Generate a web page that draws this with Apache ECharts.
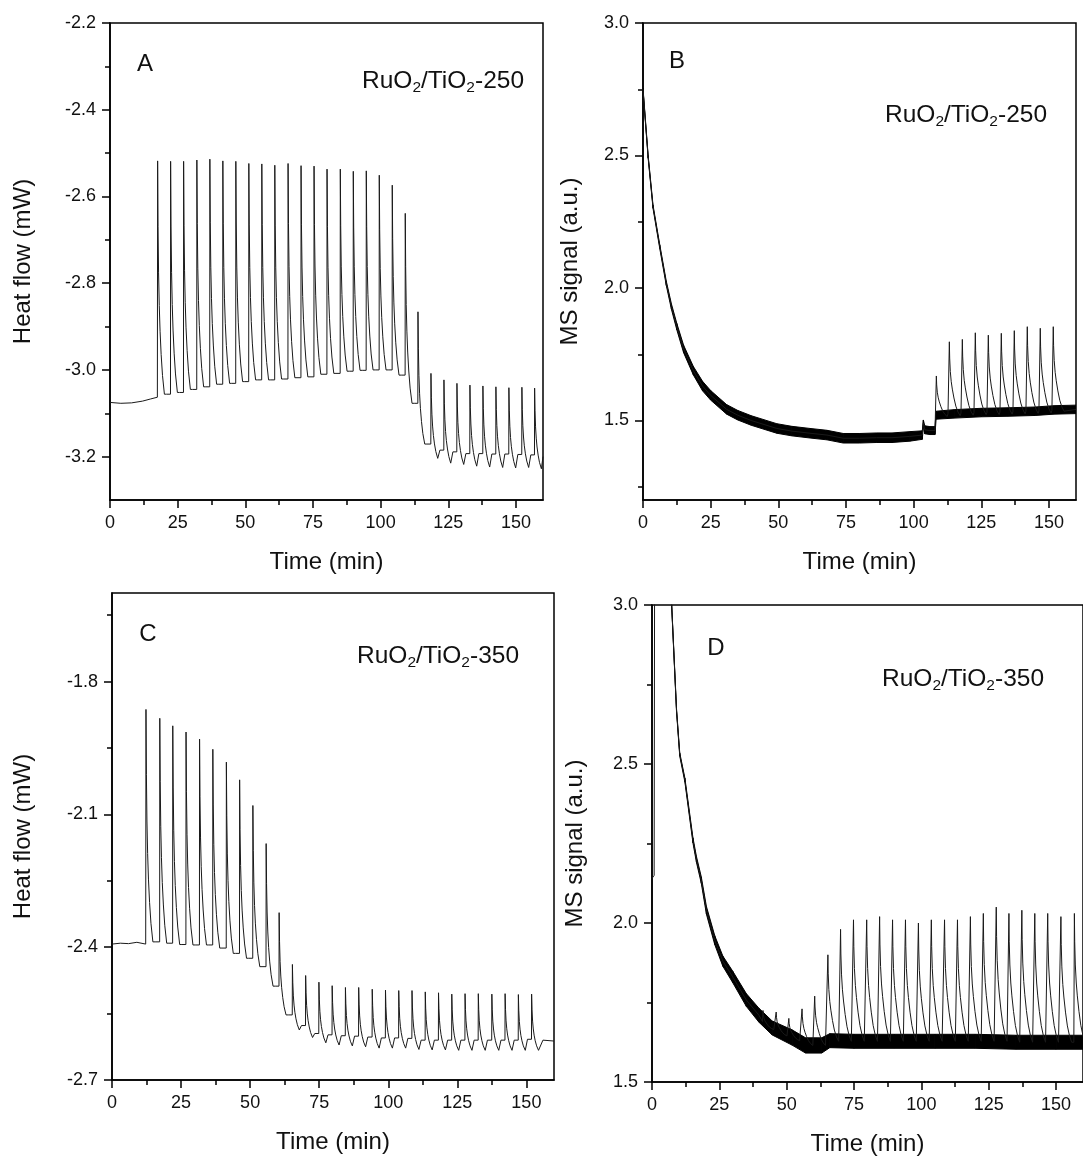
<!DOCTYPE html>
<html><head><meta charset="utf-8">
<script src="https://cdn.jsdelivr.net/npm/echarts@6/dist/echarts.min.js"></script>
<style>html,body{margin:0;padding:0;background:#fff}#c{width:1083px;height:1158px}</style>
</head><body><div id="c"></div>
<script>
// ---------- tick labels ----------
const xMajor = [0, 25, 50, 75, 100, 125, 150];
const xMinor = [12.5, 37.5, 62.5, 87.5, 112.5, 137.5];
const yMajorA = [-3.2, -3.0, -2.8, -2.6, -2.4, -2.2];
const yMinorA = [-3.1, -2.9, -2.7, -2.5, -2.3];
const yMajorB = [1.5, 2.0, 2.5, 3.0];
const yMinorB = [1.25, 1.75, 2.25, 2.75];
const yMajorC = [-2.7, -2.4, -2.1, -1.8];
const yMinorC = [-2.55, -2.25, -1.95, -1.65];
const yMajorD = [1.5, 2.0, 2.5, 3.0];
const yMinorD = [1.75, 2.25, 2.75];

// ---------- Panel A : heat flow, RuO2/TiO2-250 ----------
const leadA = [[0, -3.075], [4, -3.077], [8, -3.076], [12, -3.072], [15, -3.067], [17.5, -3.063]];
const peakTimeA = [17.6, 22.4, 27.2, 32.1, 36.9, 41.7, 46.5, 51.3, 56.1, 60.9, 65.8, 70.6, 75.4, 80.2, 85.1, 89.9, 94.7, 99.5, 104.3, 109.1, 113.8, 118.6, 123.4, 128.2, 133.0, 137.8, 142.6, 147.4, 152.2, 156.9];
const peakTopA = [-2.518, -2.519, -2.519, -2.516, -2.514, -2.518, -2.519, -2.524, -2.525, -2.528, -2.524, -2.529, -2.530, -2.537, -2.537, -2.542, -2.541, -2.551, -2.574, -2.639, -2.866, -3.008, -3.023, -3.031, -3.035, -3.037, -3.039, -3.041, -3.040, -3.042];
const preA = [-3.063, -3.056, -3.052, -3.045, -3.039, -3.033, -3.031, -3.027, -3.023, -3.023, -3.021, -3.018, -3.016, -3.010, -3.008, -3.003, -3.001, -3.000, -3.000, -3.012, -3.077, -3.171, -3.185, -3.189, -3.193, -3.193, -3.194, -3.194, -3.195, -3.196];
const dipA = [-3.056, -3.052, -3.045, -3.039, -3.033, -3.031, -3.027, -3.023, -3.023, -3.021, -3.018, -3.016, -3.010, -3.008, -3.003, -3.001, -3.000, -3.000, -3.012, -3.077, -3.171, -3.204, -3.215, -3.218, -3.222, -3.224, -3.225, -3.226, -3.225, -3.228];
const tailA = [[160, -3.200]];

// ---------- Panel C : heat flow, RuO2/TiO2-350 ----------
const leadC = [[0, -2.393], [3, -2.391], [6, -2.392], [9, -2.389], [12.2, -2.393]];
const peakTimeC = [12.3, 17.3, 22.0, 26.8, 31.7, 36.5, 41.4, 46.2, 51.0, 55.8, 60.5, 65.3, 70.1, 74.9, 79.7, 84.5, 89.3, 94.2, 99.0, 103.8, 108.6, 113.4, 118.2, 123.0, 127.8, 132.6, 137.5, 142.3, 147.1, 151.9];
const peakTopC = [-1.863, -1.883, -1.900, -1.914, -1.930, -1.953, -1.982, -2.022, -2.080, -2.166, -2.322, -2.439, -2.464, -2.479, -2.487, -2.491, -2.491, -2.495, -2.497, -2.498, -2.498, -2.501, -2.503, -2.506, -2.505, -2.505, -2.506, -2.505, -2.507, -2.506];
const preC = [-2.393, -2.388, -2.391, -2.394, -2.395, -2.395, -2.402, -2.414, -2.425, -2.444, -2.488, -2.553, -2.577, -2.595, -2.598, -2.600, -2.601, -2.603, -2.605, -2.605, -2.606, -2.610, -2.610, -2.610, -2.610, -2.610, -2.610, -2.610, -2.610, -2.608];
const dipC = [-2.388, -2.391, -2.394, -2.395, -2.395, -2.402, -2.414, -2.425, -2.444, -2.488, -2.553, -2.587, -2.604, -2.616, -2.621, -2.623, -2.625, -2.628, -2.628, -2.628, -2.631, -2.632, -2.632, -2.633, -2.633, -2.633, -2.633, -2.633, -2.633, -2.633];
const tailC = [[156, -2.610], [160, -2.612]];

// ---------- Panel B : MS signal, RuO2/TiO2-250 ----------
const bandTimeB = [0, 1.9, 3.7, 6.2, 8.6, 10.5, 12.5, 15, 18.6, 22, 25, 30.9, 35, 40, 49.4, 55, 61.7, 68, 74, 80, 86.3, 92, 98.6, 103.2, 103.6, 104.1, 106, 107.9, 108.3, 115, 125, 135, 145, 152, 160];
const bandMidB = [2.75, 2.495, 2.307, 2.156, 2.018, 1.93, 1.854, 1.77, 1.688, 1.63, 1.595, 1.542, 1.52, 1.50, 1.470, 1.46, 1.452, 1.445, 1.433, 1.433, 1.435, 1.435, 1.44, 1.445, 1.49, 1.465, 1.462, 1.462, 1.52, 1.525, 1.53, 1.532, 1.535, 1.54, 1.542];
const bandHalfB = [0.004, 0.005, 0.006, 0.007, 0.008, 0.01, 0.012, 0.014, 0.016, 0.018, 0.018, 0.018, 0.018, 0.018, 0.018, 0.018, 0.018, 0.018, 0.018, 0.018, 0.018, 0.018, 0.018, 0.016, 0.012, 0.015, 0.015, 0.015, 0.015, 0.016, 0.016, 0.016, 0.016, 0.016, 0.016];
const peakTimeB = [108.4, 113.2, 118.0, 122.8, 127.6, 132.4, 137.2, 142.0, 146.8, 151.6];
const peakTopB = [1.668, 1.797, 1.806, 1.831, 1.822, 1.829, 1.839, 1.854, 1.848, 1.854];
const preB = [1.462, 1.525, 1.528, 1.530, 1.530, 1.532, 1.533, 1.535, 1.536, 1.538];
const dipB = [1.515, 1.518, 1.520, 1.522, 1.522, 1.524, 1.525, 1.527, 1.528, 1.535];
const tailB = [[156, 1.540], [160, 1.542]];

// ---------- Panel D : MS signal, RuO2/TiO2-350 ----------
const bandTimeD = [7.3, 9.1, 10.3, 12.2, 15.2, 16.5, 18.3, 20.2, 23.3, 26.3, 30, 35, 39.7, 44.6, 52, 57, 63, 66, 75, 90, 105, 120, 135, 150, 160];
const bandMidD = [3.0, 2.67, 2.53, 2.45, 2.26, 2.20, 2.135, 2.04, 1.946, 1.88, 1.83, 1.758, 1.71, 1.67, 1.64, 1.615, 1.615, 1.63, 1.628, 1.628, 1.628, 1.628, 1.625, 1.625, 1.625];
const bandHalfD = [0.003, 0.004, 0.005, 0.006, 0.008, 0.009, 0.010, 0.012, 0.014, 0.016, 0.018, 0.020, 0.022, 0.022, 0.024, 0.024, 0.024, 0.022, 0.022, 0.022, 0.022, 0.022, 0.022, 0.022, 0.022];
const leadStartD = [[0, 2.14], [0.8, 2.15], [1.0, 3.3], [6.5, 3.15]];
const peakTimeD = [41.2, 46.1, 50.8, 55.7, 60.4, 65.3, 70.0, 74.8, 79.7, 84.5, 89.3, 94.1, 98.9, 103.7, 108.6, 113.4, 118.2, 123.0, 127.8, 132.5, 137.3, 142.1, 146.9, 151.8, 156.8];
const peakTopD = [1.725, 1.72, 1.70, 1.73, 1.77, 1.90, 1.98, 2.01, 2.01, 2.02, 2.01, 2.01, 2.00, 2.01, 2.01, 2.01, 2.02, 2.03, 2.05, 2.03, 2.04, 2.03, 2.03, 2.02, 2.03];
const preD = [1.69, 1.665, 1.645, 1.625, 1.615, 1.615, 1.628, 1.628, 1.628, 1.628, 1.628, 1.628, 1.628, 1.628, 1.628, 1.628, 1.628, 1.628, 1.628, 1.628, 1.625, 1.625, 1.625, 1.625, 1.625];
const dipD = [1.665, 1.645, 1.63, 1.615, 1.615, 1.628, 1.628, 1.628, 1.628, 1.628, 1.628, 1.628, 1.628, 1.628, 1.628, 1.628, 1.628, 1.628, 1.628, 1.625, 1.625, 1.625, 1.625, 1.625, 1.625];
const tailD = [[160, 1.628]];

// ---------- peak decay shapes (fraction of peak height left) ----------
const heatDecayOffset = [0, 0.15, 0.35, 0.6, 0.9, 1.3, 1.8, 2.5];
const heatDecayFrac   = [1, 0.72, 0.52, 0.38, 0.27, 0.17, 0.08, 0];
const msDecayOffset = [0, 0.12, 0.35, 0.7, 1.1, 1.7, 2.4, 3.2, 4.0];
const msDecayFrac   = [1, 0.78, 0.6, 0.46, 0.36, 0.24, 0.13, 0.05, 0];

function buildTrace(lead, T, top, pre, dip, tail, offs, fr, rise, recov) {
  const pts = lead.map(p => p.slice());
  for (let i = 0; i < T.length; i++) {
    pts.push([T[i] - rise, pre[i]]);
    pts.push([T[i], top[i]]);
    for (let k = 1; k < offs.length; k++) pts.push([T[i] + offs[k], dip[i] + (top[i] - dip[i]) * fr[k]]);
    if (i < T.length - 1) pts.push([T[i] + recov, pre[i + 1]]);
    else tail.forEach(p => pts.push(p.slice()));
  }
  return pts;
}
function leadFromBand(t, m, tEnd) { const o = []; t.forEach((v, i) => { if (v < tEnd) o.push([v, m[i]]); }); return o; }
// one quad per interval of the noise band: [t0, lo0, hi0, t1, lo1, hi1]
function bandQuads(t, m, h) {
  const q = [];
  for (let i = 0; i < t.length - 1; i++) q.push([t[i], m[i] - h[i], m[i] + h[i], t[i + 1], m[i + 1] - h[i + 1], m[i + 1] + h[i + 1]]);
  return q;
}

const traceA = buildTrace(leadA, peakTimeA, peakTopA, preA, dipA, tailA, heatDecayOffset, heatDecayFrac, 0.05, 3.3);
const traceC = buildTrace(leadC, peakTimeC, peakTopC, preC, dipC, tailC, heatDecayOffset, heatDecayFrac, 0.05, 3.3);
const traceB = buildTrace(leadFromBand(bandTimeB, bandMidB, peakTimeB[0] - 0.2), peakTimeB, peakTopB, preB, dipB, tailB, msDecayOffset, msDecayFrac, 0.2, 4.3);
const traceD = buildTrace(leadStartD.concat(leadFromBand(bandTimeD, bandMidD, peakTimeD[0] - 0.2)), peakTimeD, peakTopD, preD, dipD, tailD, msDecayOffset, msDecayFrac, 0.2, 4.3);

// ---------- layout ----------
const FONT = 'Liberation Sans, Arial, sans-serif';
const panels = [
  { grid: { left: 110, top: 23, width: 433, height: 477 }, ymin: -3.3, ymax: -2.2, yMaj: yMajorA, yMin: yMinorA, yName: 'Heat flow (mW)', yGap: 75 },
  { grid: { left: 643, top: 23, width: 433, height: 477 }, ymin: 1.2, ymax: 3.0, yMaj: yMajorB, yMin: yMinorB, yName: 'MS signal (a.u.)', yGap: 61 },
  { grid: { left: 112, top: 593, width: 442, height: 487 }, ymin: -2.7, ymax: -1.6, yMaj: yMajorC, yMin: yMinorC, yName: 'Heat flow (mW)', yGap: 77 },
  { grid: { left: 652, top: 605, width: 434, height: 477 }, ymin: 1.5, ymax: 3.0, yMaj: yMajorD, yMin: yMinorD, yName: 'MS signal (a.u.)', yGap: 65 }
];
const grids = [], xAxes = [], yAxes = [];
panels.forEach((p, i) => {
  grids.push(Object.assign({ show: true, borderColor: '#000', borderWidth: 1.5, backgroundColor: 'transparent' }, p.grid));
  xAxes.push({
    type: 'value', gridIndex: i, position: 'bottom', min: 0, max: 160, name: 'Time (min)', nameLocation: 'middle', nameGap: 50,
    nameTextStyle: { fontFamily: FONT, fontSize: 24, color: '#111' },
    axisLine: { show: true, onZero: false, lineStyle: { color: '#000', width: 1.6 } },
    axisTick: { show: true, length: 8, customValues: xMajor, lineStyle: { color: '#000', width: 1.5 } },
    axisLabel: { show: true, customValues: xMajor, margin: 14, fontFamily: FONT, fontSize: 18, color: '#111' },
    splitLine: { show: false }
  });
  xAxes.push({
    type: 'value', gridIndex: i, position: 'bottom', min: 0, max: 160,
    axisLine: { show: false, onZero: false },
    axisTick: { show: true, length: 5, customValues: xMinor, lineStyle: { color: '#000', width: 1.5 } },
    axisLabel: { show: false, customValues: xMinor }, splitLine: { show: false }
  });
  yAxes.push({
    type: 'value', gridIndex: i, position: 'left', min: p.ymin, max: p.ymax, name: p.yName, nameLocation: 'middle', nameGap: p.yGap,
    nameTextStyle: { fontFamily: FONT, fontSize: 24, color: '#111' },
    axisLine: { show: true, onZero: false, lineStyle: { color: '#000', width: 1.6 } },
    axisTick: { show: true, length: 8, customValues: p.yMaj, lineStyle: { color: '#000', width: 1.5 } },
    axisLabel: { show: true, customValues: p.yMaj, margin: 14, fontFamily: FONT, fontSize: 18, color: '#111', formatter: v => Number(v).toFixed(1) },
    splitLine: { show: false }
  });
  yAxes.push({
    type: 'value', gridIndex: i, position: 'left', min: p.ymin, max: p.ymax,
    axisLine: { show: false, onZero: false },
    axisTick: { show: true, length: 5, customValues: p.yMin, lineStyle: { color: '#000', width: 1.5 } },
    axisLabel: { show: false, customValues: p.yMin }, splitLine: { show: false }
  });
});

function lineSeries(idx, data) {
  return { type: 'line', xAxisIndex: idx * 2, yAxisIndex: idx * 2, data: data, showSymbol: false, symbol: 'none',
    lineStyle: { color: '#1a1a1a', width: 1 }, animation: false, silent: true, clip: true, z: 3 };
}
function bandSeries(idx, t, m, h) {
  return {
    type: 'custom', xAxisIndex: idx * 2, yAxisIndex: idx * 2, data: bandQuads(t, m, h), clip: true, silent: true, z: 2,
    encode: { x: [0, 3], y: [1, 2, 4, 5] },
    renderItem: function (params, api) {
      const p0 = api.coord([api.value(0), api.value(1)]);
      const p1 = api.coord([api.value(3), api.value(4)]);
      const p2 = api.coord([api.value(3), api.value(5)]);
      const p3 = api.coord([api.value(0), api.value(2)]);
      return { type: 'polygon', shape: { points: [p0, p1, p2, p3] }, style: { fill: '#000', stroke: '#000', lineWidth: 1 } };
    }
  };
}

const series = [
  lineSeries(0, traceA),
  bandSeries(1, bandTimeB, bandMidB, bandHalfB),
  lineSeries(1, traceB),
  lineSeries(2, traceC),
  bandSeries(3, bandTimeD, bandMidD, bandHalfD),
  lineSeries(3, traceD)
];

function label(x, y, t) {
  return { type: 'text', x: x, y: y, style: { text: t, fontFamily: FONT, fontSize: 24, fill: '#111', textAlign: 'center', textVerticalAlign: 'middle' }, z: 100 };
}
function sample(x, y, temp) {
  return { type: 'text', x: x, y: y, z: 100, style: {
    text: 'RuO{s|2}/TiO{s|2}-' + temp, fontFamily: FONT, fontSize: 24.5, fill: '#111', lineHeight: 30,
    textAlign: 'left', textVerticalAlign: 'top',
    rich: { s: { fontFamily: FONT, fontSize: 15.5, fill: '#111', lineHeight: 7, verticalAlign: 'bottom' } }
  } };
}

const chart = echarts.init(document.getElementById('c'), null, { renderer: 'canvas' });
chart.setOption({
  backgroundColor: '#fff',
  animation: false,
  textStyle: { fontFamily: FONT },
  grid: grids, xAxis: xAxes, yAxis: yAxes, series: series,
  graphic: [
    label(145, 64, 'A'), label(677, 61, 'B'), label(148, 634, 'C'), label(716, 648, 'D'),
    sample(362, 66, '250'), sample(885, 100, '250'), sample(357, 641, '350'), sample(882, 664, '350')
  ]
});
</script></body></html>
